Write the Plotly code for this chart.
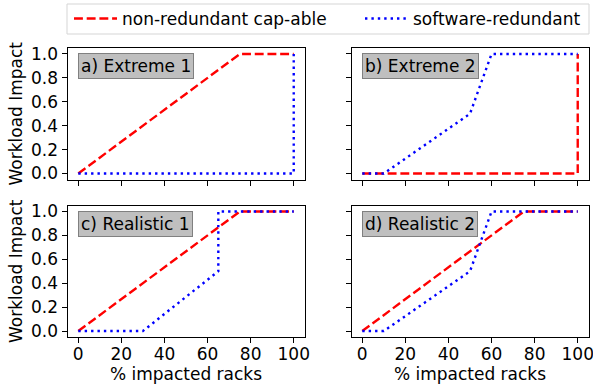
import plotly.graph_objects as go

# ---- data ----
panel_titles = ["a) Extreme 1", "b) Extreme 2", "c) Realistic 1", "d) Realistic 2"]

nonred_x = [
    [0, 75, 100],
    [0, 100, 100],
    [0, 75, 100],
    [0, 75, 100],
]
nonred_y = [
    [0, 1, 1],
    [0, 0, 1],
    [0, 1, 1],
    [0, 1, 1],
]
softred_x = [
    [0, 100, 100],
    [0, 10, 50, 60, 100],
    [0, 30, 65, 65, 100],
    [0, 10, 50, 60, 100],
]
softred_y = [
    [0, 0, 1],
    [0, 0, 0.5, 1, 1],
    [0, 0, 0.5, 1, 1],
    [0, 0, 0.5, 1, 1],
]
series_names = ["non-redundant cap-able", "software-redundant"]
x_ticks = [0, 20, 40, 60, 80, 100]
y_ticks = [0.0, 0.2, 0.4, 0.6, 0.8, 1.0]

W, H = 593, 388
FONT = "DejaVu Sans"
FS = 17

def px_x(a, b):
    return [a / W, b / W]

def px_y(top, bottom):
    return [1 - bottom / H, 1 - top / H]

xdoms = [px_x(67.5, 304.5), px_x(351.5, 588.5)]
ydoms = [px_y(48, 179.5), px_y(205.5, 337)]

fig = go.Figure()

for i in range(4):
    r, c = divmod(i, 2)
    sfx = "" if i == 0 else str(i + 1)
    fig.add_trace(go.Scatter(
        x=nonred_x[i], y=nonred_y[i], mode="lines",
        line=dict(color="red", width=2.4, dash="8.9px,3.8px"),
        name=series_names[0], showlegend=(i == 0), legend="legend",
        xaxis="x" + sfx, yaxis="y" + sfx))
    fig.add_trace(go.Scatter(
        x=softred_x[i], y=softred_y[i], mode="lines",
        line=dict(color="blue", width=2.4, dash="2.4px,4px"),
        name=series_names[1], showlegend=(i == 0), legend="legend2",
        xaxis="x" + sfx, yaxis="y" + sfx))

    axis_common = dict(showline=True, linecolor="black", linewidth=1, mirror=True,
                       ticks="outside", ticklen=5, tickcolor="black", showgrid=False,
                       zeroline=False, automargin=False, ticklabeloverflow="allow",
                       tickfont=dict(family=FONT, size=FS, color="black"))
    xa = dict(axis_common, domain=xdoms[c], range=[-5, 105], tickvals=x_ticks,
              anchor="y" + sfx, showticklabels=(r == 1), ticklabelstandoff=-3)
    if r == 1:
        xa["title"] = dict(text="% impacted racks", font=dict(family=FONT, size=FS, color="black"), standoff=0)
    ya = dict(axis_common, domain=ydoms[r], range=[-0.05, 1.05], tickvals=y_ticks,
              tickformat=".1f", anchor="x" + sfx, showticklabels=(c == 0))
    if c == 0:
        ya["title"] = dict(text="Workload Impact", font=dict(family=FONT, size=FS, color="black"), standoff=4)
    fig.layout["xaxis" + sfx] = xa
    fig.layout["yaxis" + sfx] = ya

    fig.add_annotation(
        x=xdoms[c][0] + 10.5 / W, y=ydoms[r][1] - 5.5 / H, xref="paper", yref="paper",
        xanchor="left", yanchor="top", text=panel_titles[i], showarrow=False,
        font=dict(family=FONT, size=17, color="black"),
        bgcolor="#bfbfbf", bordercolor="#808080", borderwidth=1, borderpad=2)

# legend frame
fig.add_shape(type="rect", xref="paper", yref="paper",
              x0=67 / W, x1=589 / W, y0=1 - 34 / H, y1=1 - 4 / H,
              line=dict(color="#d5d5d5", width=1), fillcolor="rgba(255,255,255,0.8)", layer="below")

leg_common = dict(orientation="h", y=1 - 19 / H, xanchor="left", yanchor="middle",
                  bgcolor="rgba(0,0,0,0)", borderwidth=0, itemwidth=43,
                  font=dict(family=FONT, size=FS, color="black"))

fig.update_layout(
    width=W, height=H, margin=dict(l=0, r=0, t=0, b=0, autoexpand=False),
    plot_bgcolor="white", paper_bgcolor="white",
    font=dict(family=FONT, size=FS, color="black"),
    legend=dict(leg_common, x=69 / W),
    legend2=dict(leg_common, x=360 / W),
)

fig.write_html("out.html", config={"displayModeBar": False},
               post_script="document.body.style.margin='0';")
